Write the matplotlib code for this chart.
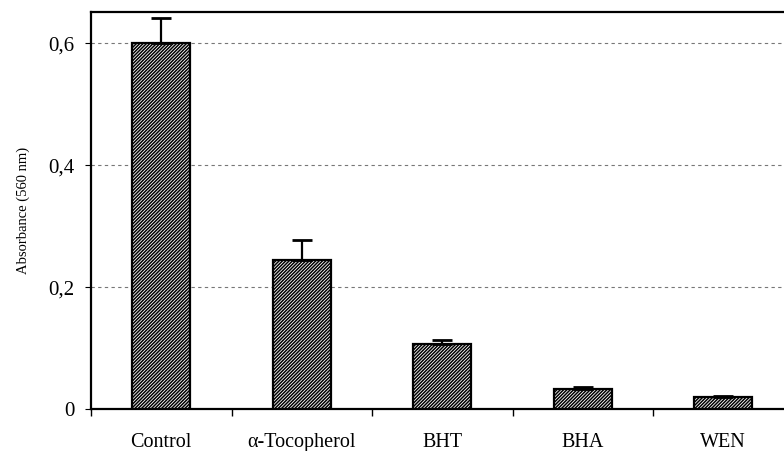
import matplotlib
matplotlib.use("Agg")
import matplotlib.pyplot as plt
import numpy as np

# data
categories = ["Control", "\u03b1-Tocopherol", "BHT", "BHA", "WEN"]
absorbance = [0.600, 0.244, 0.106, 0.033, 0.019]
err_up = [0.041, 0.034, 0.007, 0.003, 0.003]
yticks = [0, 0.2, 0.4, 0.6]
ytick_labels = ["0", "0,2", "0,4", "0,6"]

plt.rcParams['font.family'] = ['Liberation Serif', 'DejaVu Serif']
plt.rcParams['hatch.linewidth'] = 1.1

fig = plt.figure(figsize=(7.84, 4.51), dpi=100)
ax = fig.add_axes([0.1161, 0.0931, 0.896, 0.880])

x = np.arange(len(categories))
ax.bar(x, absorbance, width=0.41, color='white', edgecolor='black',
       hatch='//////////', linewidth=1.6, zorder=3)
ax.errorbar(x, absorbance, yerr=[np.zeros(len(err_up)), err_up], fmt='none',
            ecolor='black', elinewidth=1.6, capsize=7, capthick=2, zorder=4)

ax.set_xlim(-0.5, len(categories) - 0.5)
ax.set_ylim(0, 0.651)

ax.set_yticks(yticks)
ax.set_yticklabels(ytick_labels, fontsize=15)
ax.set_xticks(x)
ax.set_xticklabels(categories, fontsize=14.5)
ax.tick_params(axis='x', length=0, pad=17)
ax.set_xticks(np.arange(len(categories)) - 0.5, minor=True)
ax.tick_params(axis='x', which='minor', length=5, width=1, direction='out')
ax.tick_params(axis='y', length=4, width=0.8, direction='out', pad=8)

for yv in yticks[1:]:
    ax.axhline(yv, color='#777777', linestyle=(0, (3, 3)), linewidth=0.8, zorder=1)

for s in ax.spines.values():
    s.set_linewidth(1.6)

ax.set_ylabel("Absorbance (560 nm)", fontsize=10.5, labelpad=13)

fig.savefig("out.png", dpi=100)
plt.close(fig)
